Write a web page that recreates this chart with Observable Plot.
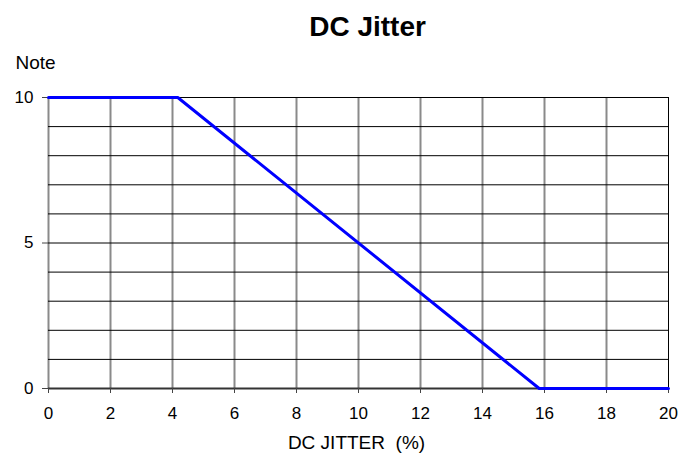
<!DOCTYPE html>
<html>
<head>
<meta charset="utf-8">
<script src="https://cdn.jsdelivr.net/npm/d3@7"></script>
<script src="https://cdn.jsdelivr.net/npm/@observablehq/plot@0.6"></script>
<style>
  html, body { margin: 0; padding: 0; background: white; }
</style>
</head>
<body>
<div id="chart"></div>
<script>
const jitterX = [0, 4.17, 15.83, 20];
const noteY = [10, 10, 0, 0];
const xTicks = [0, 2, 4, 6, 8, 10, 12, 14, 16, 18, 20];
const yTicks = [0, 5, 10];
const yGrid = [0, 1, 2, 3, 4, 5, 6, 7, 8, 9, 10];
const xGrid = [0, 2, 4, 6, 8, 10, 12, 14, 16, 18];
const title = "DC Jitter";
const yLabel = "Note";
const xLabel = "DC JITTER\u00a0 (%)";

const data = jitterX.map((x, i) => ({x, y: noteY[i]}));
const font = "'Liberation Sans', Arial, Helvetica, sans-serif";

const chart = Plot.plot({
  width: 695,
  height: 455,
  marginLeft: 48,
  marginRight: 27,
  marginTop: 97,
  marginBottom: 67,
  x: {domain: [0, 20]},
  y: {domain: [0, 10]},
  style: {fontFamily: font, fontSize: "17px", background: "white", color: "black", overflow: "visible"},
  marks: [
    Plot.ruleX(xGrid, {stroke: "#8a8a8a", strokeWidth: 2}),
    Plot.ruleX([20], {stroke: "black", strokeWidth: 1}),
    Plot.ruleY(yGrid, {stroke: "black", strokeWidth: 1}),
    Plot.ruleY([0], {stroke: "#333", strokeWidth: 2}),
    Plot.axisX({ticks: xTicks, tickSize: 5, tickPadding: 13, label: null, fontSize: 17, stroke: "#444"}),
    Plot.axisY({ticks: yTicks, tickSize: 6, tickPadding: 9, label: null, fontSize: 17, stroke: "#444"}),
    Plot.line(data, {x: "x", y: "y", stroke: "#0000ff", strokeWidth: 3}),
    Plot.text([title], {frameAnchor: "top", dx: 9, dy: -62, lineAnchor: "bottom", fontSize: 28, fontWeight: "bold", fill: "black"}),
    Plot.text([yLabel], {frameAnchor: "top-left", dx: -33, dy: -29, lineAnchor: "bottom", textAnchor: "start", fontSize: 19, fill: "black"}),
    Plot.text([xLabel], {frameAnchor: "bottom", dx: -2, dy: 60, lineAnchor: "bottom", fontSize: 19, fill: "black"})
  ]
});
document.getElementById("chart").appendChild(chart);
</script>
</body>
</html>
